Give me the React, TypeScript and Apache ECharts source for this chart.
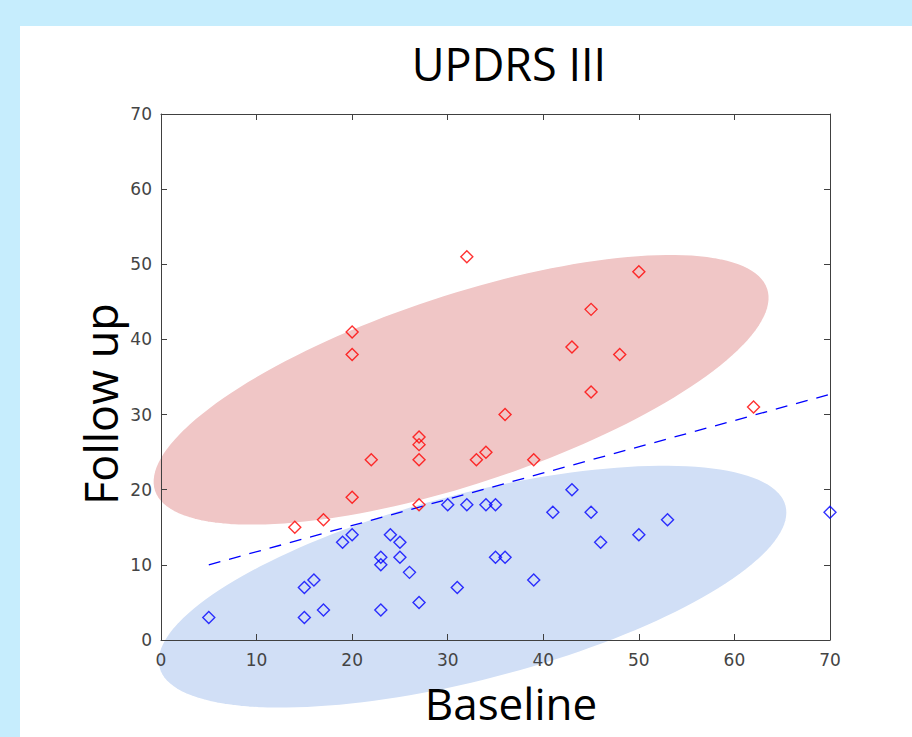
import React, { useEffect, useRef } from "react";
import * as echarts from "echarts";

// Red group (Baseline, Follow up)
const redBaseline = [32, 50, 45, 20, 43, 20, 48, 45, 62, 36, 27, 27, 22, 27, 33, 34, 39, 20, 27, 17, 14];
const redFollowUp = [51, 49, 44, 41, 39, 38, 38, 33, 31, 30, 27, 26, 24, 24, 24, 25, 24, 19, 18, 16, 15];

// Blue group (Baseline, Follow up)
const blueBaseline = [5, 15, 15, 16, 17, 19, 20, 23, 23, 23, 24, 25, 25, 26, 27, 30, 31, 32, 34, 35, 35, 36, 39, 41, 43, 45, 46, 50, 53, 70];
const blueFollowUp = [3, 3, 7, 8, 4, 13, 14, 4, 11, 10, 14, 13, 11, 9, 5, 18, 7, 18, 18, 18, 11, 11, 8, 17, 20, 17, 13, 14, 16, 17];

// Dashed trend line end points
const trendBaseline = [5, 70];
const trendFollowUp = [10, 32.7];

// Cluster ellipses: centre (data units), semi-axes (x-axis units), tilt (deg)
const ellipseCenterX = [32.6, 31.4];
const ellipseCenterY = [7.1, 33.3];
const ellipseSemiMajor = [33.9, 33.8];
const ellipseSemiMinor = [9.8, 9.95];
const ellipseTilt = [14.5, 18.25];
const ellipseColors = ["#d1dff6", "#f0c6c6"];

const AXIS_MIN = 0;
const AXIS_MAX = 70;
const AXIS_STEP = 10;

export default function App() {
  const ref = useRef<HTMLDivElement>(null);

  useEffect(() => {
    if (!ref.current) return;
    const chart = echarts.init(ref.current, undefined, { renderer: "svg" });

    const ellipseSeries = ellipseCenterX.map((cx, k) => ({
      type: "custom",
      coordinateSystem: "cartesian2d",
      z: -1,
      clip: false,
      silent: true,
      data: [[cx, ellipseCenterY[k], ellipseSemiMajor[k], ellipseSemiMinor[k], ellipseTilt[k]]],
      encode: { x: 0, y: 1 },
      renderItem: (params: any, api: any) => {
        const c = api.coord([api.value(0), api.value(1)]);
        const pxPerX = api.size([1, 0])[0];
        const a = api.value(2) * pxPerX;
        const b = api.value(3) * pxPerX;
        const th = (api.value(4) * Math.PI) / 180;
        const pts: number[][] = [];
        const n = 160;
        for (let i = 0; i < n; i++) {
          const t = (2 * Math.PI * i) / n;
          const ux = a * Math.cos(t);
          const uy = b * Math.sin(t);
          pts.push([
            c[0] + ux * Math.cos(th) + uy * Math.sin(th),
            c[1] - ux * Math.sin(th) + uy * Math.cos(th),
          ]);
        }
        return {
          type: "polygon",
          shape: { points: pts },
          style: { fill: ellipseColors[k], stroke: "#ffffff", lineWidth: 1.5 },
        };
      },
    }));

    const makeAxis = (position: string, showLabel: boolean, margin: number) => ({
      type: "value",
      position,
      min: AXIS_MIN,
      max: AXIS_MAX,
      interval: AXIS_STEP,
      axisLine: { show: true, onZero: false, lineStyle: { color: "#404040", width: 1 } },
      axisTick: { show: true, inside: true, length: 6, lineStyle: { color: "#404040", width: 1 } },
      axisLabel: {
        show: showLabel,
        fontSize: 17,
        fontFamily: "DejaVu Sans",
        color: "#444444",
        margin,
      },
      splitLine: { show: false },
    });

    const option: any = {
      animation: false,
      backgroundColor: "#c6edfd",
      grid: { left: 161, top: 114, width: 669, height: 526, containLabel: false },
      graphic: [
        { type: "rect", z: -10, shape: { x: 20, y: 26, width: 892, height: 711 }, style: { fill: "#ffffff" } },
        {
          type: "text",
          x: 509,
          y: 63,
          style: {
            text: "UPDRS III",
            fontSize: 45,
            fontFamily: "Open Sans",
            fill: "#000000",
            align: "center",
            verticalAlign: "middle",
            textAlign: "center",
            textVerticalAlign: "middle",
          },
        },
        {
          type: "text",
          x: 511,
          y: 703,
          style: {
            text: "Baseline",
            fontSize: 44,
            fontFamily: "Open Sans",
            fill: "#000000",
            align: "center",
            verticalAlign: "middle",
            textAlign: "center",
            textVerticalAlign: "middle",
          },
        },
        {
          type: "text",
          x: 100,
          y: 404,
          rotation: Math.PI / 2,
          style: {
            text: "Follow up",
            fontSize: 45,
            fontFamily: "Open Sans",
            fill: "#000000",
            align: "center",
            verticalAlign: "middle",
            textAlign: "center",
            textVerticalAlign: "middle",
          },
        },
      ],
      xAxis: [makeAxis("bottom", true, 11), makeAxis("top", false, 8)],
      yAxis: [makeAxis("left", true, 9), makeAxis("right", false, 8)],
      series: [
        ...ellipseSeries,
        {
          type: "line",
          data: trendBaseline.map((x, i) => [x, trendFollowUp[i]]),
          symbol: "none",
          showSymbol: false,
          clip: false,
          lineStyle: { color: "#0000ff", width: 1.3, type: [12, 9] },
          z: 3,
        },
        {
          type: "scatter",
          data: blueBaseline.map((x, i) => [x, blueFollowUp[i]]),
          symbol: "diamond",
          symbolSize: 12,
          clip: false,
          itemStyle: { color: "rgba(0,0,0,0)", borderColor: "#0000ff", borderWidth: 1.4 },
          z: 4,
        },
        {
          type: "scatter",
          data: redBaseline.map((x, i) => [x, redFollowUp[i]]),
          symbol: "diamond",
          symbolSize: 12,
          clip: false,
          itemStyle: { color: "rgba(0,0,0,0)", borderColor: "#ff0000", borderWidth: 1.4 },
          z: 4,
        },
      ],
    };

    chart.setOption(option);
    return () => chart.dispose();
  }, []);

  return (
    <div
      ref={ref}
      style={{ position: "fixed", left: 0, top: 0, width: 912, height: 737 }}
    />
  );
}
